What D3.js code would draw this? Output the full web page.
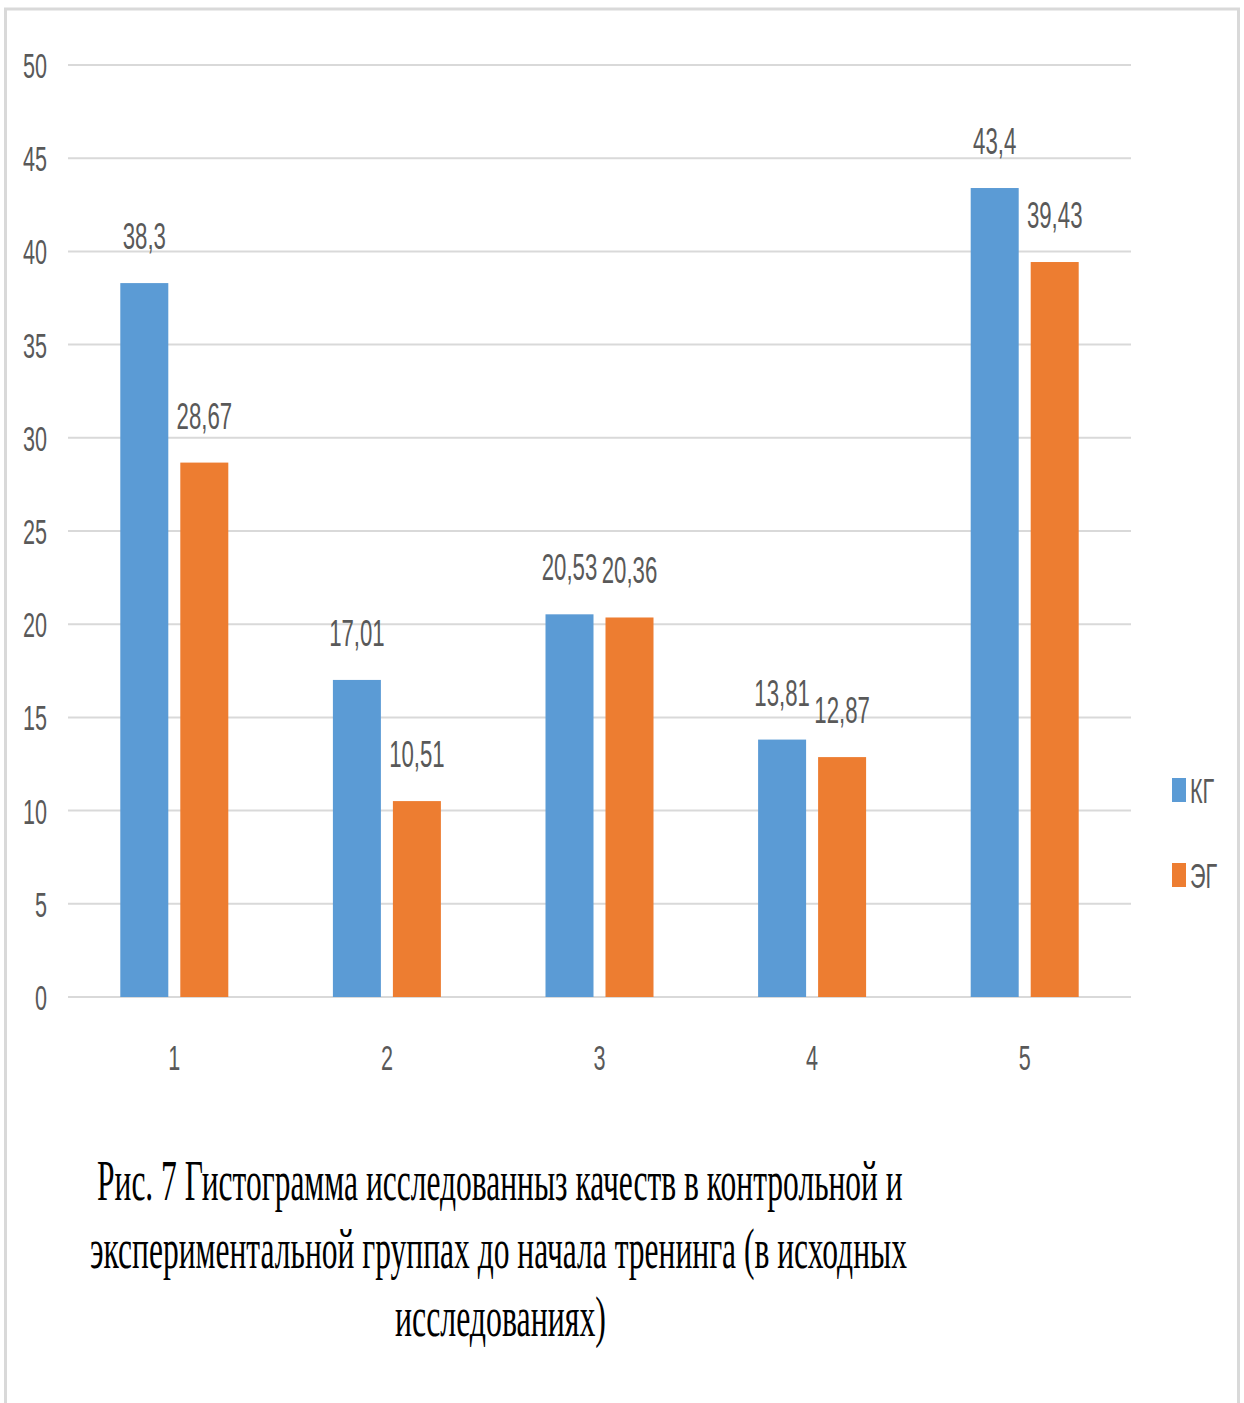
<!DOCTYPE html>
<html lang="ru">
<head>
<meta charset="UTF-8">
<title>Рис. 7</title>
<script src="https://d3js.org/d3.v7.min.js"></script>
<style>
  body { margin: 0; background: #fff; }
  .tick-lbl, .val-lbl, .leg-lbl { font-family: "Liberation Sans", Arial, sans-serif; fill: #595959; }
  .caption { font-family: "Liberation Serif", "Times New Roman", serif; fill: #000; }
</style>
</head>
<body>
<script>
  var categories = ["1", "2", "3", "4", "5"];
  var seriesNames = ["КГ", "ЭГ"];
  var kgValues = [38.3, 17.01, 20.53, 13.81, 43.4];
  var egValues = [28.67, 10.51, 20.36, 12.87, 39.43];
  var yTicks = [0, 5, 10, 15, 20, 25, 30, 35, 40, 45, 50];
  var colors = ["#5B9BD5", "#ED7D31"];
  var captionLines = [
    "Рис. 7 Гистограмма исследованныз качеств в контрольной и",
    "экспериментальной  группах до начала тренинга (в исходных",
    "исследованиях)"
  ];

  var W = 1244, H = 1403;
  var svg = d3.select("body").append("svg").attr("width", W).attr("height", H);

  // outer frame
  svg.append("rect").attr("x", 5.5).attr("y", 9).attr("width", 1233).attr("height", 1430)
     .attr("fill", "none").attr("stroke", "#d9d9d9").attr("stroke-width", 3);

  var x = d3.scaleBand().domain(categories).range([68, 1131]);
  var y = d3.scaleLinear().domain([0, 50]).range([997, 65]);
  var sx = 0.6; // narrow text

  function fmt(v) { return String(v).replace(".", ","); }

  // gridlines
  svg.append("g").selectAll("line").data(yTicks).enter().append("line")
     .attr("x1", 68).attr("x2", 1131)
     .attr("y1", function(d){ return y(d); }).attr("y2", function(d){ return y(d); })
     .attr("stroke", "#d9d9d9").attr("stroke-width", 2);

  // y tick labels
  svg.append("g").selectAll("text").data(yTicks).enter().append("text")
     .attr("class", "tick-lbl").attr("font-size", 36).attr("text-anchor", "end")
     .attr("dy", "0.36em")
     .attr("transform", function(d){ return "translate(47," + y(d) + ") scale(" + sx + ",1)"; })
     .text(function(d){ return d; });

  // x labels
  svg.append("g").selectAll("text").data(categories).enter().append("text")
     .attr("class", "tick-lbl").attr("font-size", 36).attr("text-anchor", "middle")
     .attr("transform", function(d){ return "translate(" + (x(d) + x.bandwidth() / 2) + ",1070) scale(" + sx + ",1)"; })
     .text(function(d){ return d; });

  var series = [kgValues, egValues];
  var barW = 48, offsets = [-54, 6];

  series.forEach(function(vals, si) {
    var data = categories.map(function(c, i){ return { c: c, v: vals[i] }; });
    var g = svg.append("g");
    g.selectAll("rect").data(data).enter().append("rect")
     .attr("x", function(d){ return x(d.c) + x.bandwidth() / 2 + offsets[si]; })
     .attr("y", function(d){ return y(d.v); })
     .attr("width", barW)
     .attr("height", function(d){ return y(0) - y(d.v); })
     .attr("fill", colors[si]);
    g.selectAll("text").data(data).enter().append("text")
     .attr("class", "val-lbl").attr("font-size", 37).attr("text-anchor", "middle")
     .attr("transform", function(d){
        return "translate(" + (x(d.c) + x.bandwidth() / 2 + offsets[si] + barW / 2) + "," + (y(d.v) - 34) + ") scale(" + sx + ",1)";
     })
     .text(function(d){ return fmt(d.v); });
  });

  // legend
  var leg = svg.append("g").selectAll("g").data(seriesNames).enter().append("g")
     .attr("transform", function(d, i){ return "translate(1172," + (790 + i * 85) + ")"; });
  leg.append("rect").attr("x", 0).attr("y", -12).attr("width", 14).attr("height", 24)
     .attr("fill", function(d, i){ return colors[i]; });
  leg.append("text").attr("class", "leg-lbl").attr("font-size", 36).attr("dy", "0.36em")
     .attr("transform", "translate(18,0) scale(" + sx + ",1)")
     .text(function(d){ return d; });

  // caption: narrow serif, squeezed to the width of each line
  var capX = [[97, 903], [90, 907], [395, 606]];
  var capY = [1200, 1268, 1336];
  svg.append("g").selectAll("text").data(captionLines).enter().append("text")
     .attr("class", "caption").attr("font-size", 56)
     .text(function(d){ return d; })
     .attr("transform", function(d, i){
        var natural = this.getComputedTextLength();
        var k = (capX[i][1] - capX[i][0]) / natural;
        return "translate(" + capX[i][0] + "," + capY[i] + ") scale(" + k + ",1)";
     });
</script>
</body>
</html>
